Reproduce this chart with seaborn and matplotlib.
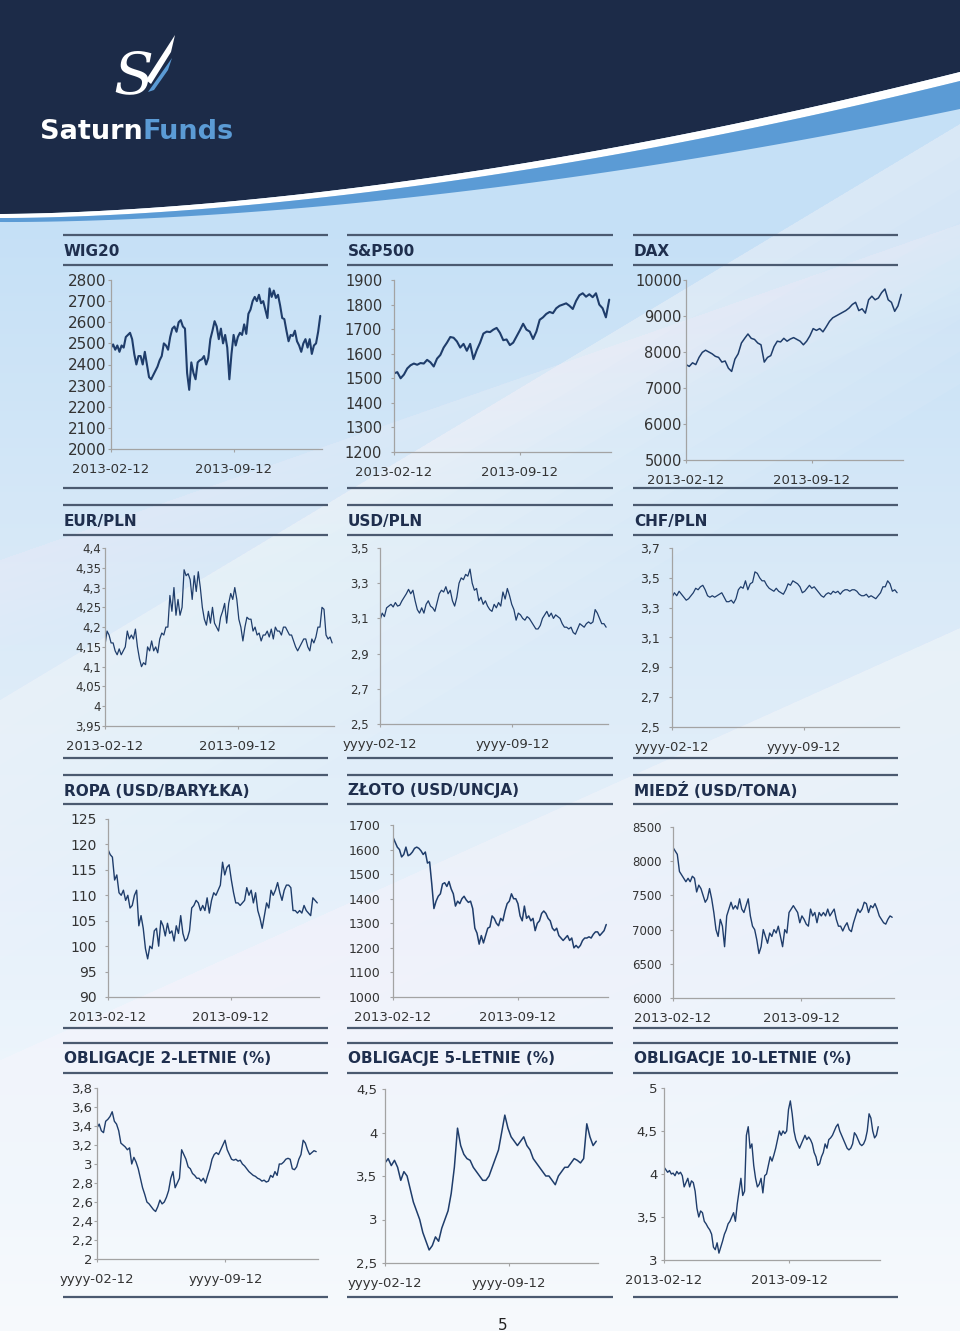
import numpy as np
import pandas as pd
import matplotlib
matplotlib.use("Agg")
import matplotlib.pyplot as plt
import matplotlib.dates as mdates
from matplotlib.ticker import FixedLocator, FuncFormatter
import seaborn as sns

# ---------------- data ----------------
titles = ["WIG20", "S&P500", "DAX",
          "EUR/PLN", "USD/PLN", "CHF/PLN",
          "ROPA (USD/BARYŁKA)", "ZŁOTO (USD/UNCJA)", "MIEDŹ (USD/TONA)",
          "OBLIGACJE 2-LETNIE (%)", "OBLIGACJE 5-LETNIE (%)", "OBLIGACJE 10-LETNIE (%)"]

date_prefix = ["2013", "2013", "2013",
               "2013", "yyyy", "yyyy",
               "2013", "2013", "2013",
               "yyyy", "yyyy", "2013"]

y_ranges = [(2000, 2800, 100), (1200, 1900, 100), (5000, 10000, 1000),
            (3.95, 4.4, 0.05), (2.5, 3.5, 0.2), (2.5, 3.7, 0.2),
            (90, 125, 5), (1000, 1700, 100), (6000, 8500, 500),
            (2.0, 3.8, 0.2), (2.5, 4.5, 0.5), (3.0, 5.0, 0.5)]

wig20 = [2480, 2495, 2470, 2490, 2460, 2490, 2480, 2530, 2540, 2550,
         2520, 2450, 2400, 2440, 2440, 2400, 2460, 2400, 2340, 2330,
         2350, 2370, 2390, 2420, 2440, 2500, 2490, 2470, 2530, 2570,
         2580, 2555, 2600, 2610, 2580, 2570, 2360, 2280, 2410, 2360,
         2330, 2410, 2420, 2425, 2440, 2400, 2430, 2520, 2560, 2605,
         2580, 2520, 2570, 2500, 2540, 2480, 2330, 2450, 2540, 2490,
         2530, 2550, 2540, 2590, 2545, 2640, 2660, 2700, 2720, 2700,
         2730, 2690, 2700, 2660, 2620, 2760, 2720, 2750, 2715, 2730,
         2680, 2620, 2615, 2560, 2510, 2540, 2535, 2560, 2510, 2490,
         2460, 2500, 2520, 2480, 2520, 2450, 2490, 2500, 2555, 2630]

sp500 = [1520, 1525, 1500, 1515, 1540, 1553, 1560, 1555, 1562, 1560,
         1575, 1565, 1548, 1580, 1595, 1625, 1645, 1668, 1665, 1650,
         1625, 1640, 1612, 1640, 1578, 1615, 1645, 1682, 1690, 1688,
         1698, 1705, 1685, 1655, 1658, 1635, 1645, 1670, 1695, 1722,
         1698, 1690, 1660, 1690, 1738, 1748, 1762, 1770, 1765, 1785,
         1795, 1800, 1805, 1795, 1782, 1815, 1838, 1846, 1832, 1842,
         1830, 1846, 1800, 1785, 1748, 1820]

dax = [7650, 7600, 7700, 7650, 7850, 7990, 8050, 8000, 7950, 7880,
       7850, 7720, 7750, 7550, 7460, 7800, 7950, 8250, 8380, 8500,
       8380, 8350, 8250, 8200, 7720, 7850, 7900, 8150, 8300, 8280,
       8380, 8300, 8360, 8400, 8350, 8300, 8200, 8300, 8450, 8650,
       8600, 8650, 8560, 8700, 8850, 8950, 9000, 9050, 9100, 9150,
       9220, 9320, 9380, 9150, 9200, 9080, 9450, 9550, 9450, 9500,
       9650, 9750, 9450, 9380, 9130, 9280, 9600]

eurpln = [4.155, 4.19, 4.18, 4.16, 4.16, 4.14, 4.13, 4.145, 4.13, 4.14,
          4.15, 4.19, 4.17, 4.18, 4.17, 4.195, 4.15, 4.12, 4.10, 4.11,
          4.105, 4.15, 4.14, 4.165, 4.14, 4.15, 4.135, 4.17, 4.185, 4.18,
          4.2, 4.2, 4.28, 4.24, 4.3, 4.23, 4.27, 4.23, 4.25, 4.345,
          4.33, 4.335, 4.32, 4.27, 4.33, 4.29, 4.34, 4.3, 4.25, 4.22,
          4.205, 4.24, 4.21, 4.25, 4.21, 4.2, 4.19, 4.225, 4.24, 4.26,
          4.21, 4.26, 4.285, 4.27, 4.3, 4.27, 4.22, 4.2, 4.165, 4.2,
          4.225, 4.22, 4.22, 4.19, 4.2, 4.18, 4.185, 4.165, 4.18, 4.18,
          4.19, 4.175, 4.195, 4.17, 4.2, 4.19, 4.19, 4.18, 4.2, 4.2,
          4.19, 4.18, 4.18, 4.165, 4.15, 4.14, 4.15, 4.16, 4.17, 4.17,
          4.15, 4.14, 4.17, 4.16, 4.175, 4.2, 4.2, 4.25, 4.245, 4.18,
          4.17, 4.175, 4.16]

usdpln = [3.09, 3.13, 3.11, 3.16, 3.17, 3.18, 3.165, 3.19, 3.17, 3.175,
          3.2, 3.22, 3.24, 3.265, 3.24, 3.26, 3.2, 3.15, 3.13, 3.16,
          3.13, 3.18, 3.2, 3.17, 3.16, 3.14, 3.19, 3.24, 3.26, 3.25,
          3.28, 3.24, 3.26, 3.2, 3.17, 3.22, 3.3, 3.33, 3.32, 3.35,
          3.34, 3.38, 3.3, 3.26, 3.27, 3.2, 3.22, 3.18, 3.2, 3.17,
          3.15, 3.14, 3.18, 3.16, 3.19, 3.17, 3.25, 3.21, 3.27, 3.23,
          3.18, 3.15, 3.09, 3.13, 3.12, 3.1, 3.09, 3.11, 3.1, 3.08,
          3.06, 3.04, 3.04, 3.06, 3.1, 3.12, 3.14, 3.11, 3.13, 3.1,
          3.12, 3.11, 3.1, 3.07, 3.05, 3.05, 3.04, 3.05, 3.02, 3.01,
          3.04, 3.07, 3.06, 3.05, 3.07, 3.08, 3.07, 3.08, 3.15, 3.13,
          3.1, 3.07, 3.07, 3.05]

chfpln = [3.37, 3.4, 3.38, 3.41, 3.39, 3.37, 3.35, 3.36, 3.38, 3.4,
          3.43, 3.42, 3.44, 3.45, 3.42, 3.38, 3.37, 3.38, 3.37, 3.38,
          3.39, 3.4, 3.37, 3.34, 3.34, 3.35, 3.33, 3.36, 3.42, 3.44,
          3.43, 3.48, 3.42, 3.46, 3.47, 3.54, 3.53, 3.5, 3.48, 3.48,
          3.45, 3.43, 3.42, 3.41, 3.43, 3.41, 3.4, 3.39, 3.42, 3.46,
          3.45, 3.48, 3.47, 3.46, 3.44, 3.4, 3.41, 3.43, 3.45, 3.43,
          3.44, 3.42, 3.4, 3.38, 3.37, 3.39, 3.4, 3.39, 3.41, 3.4,
          3.41, 3.39, 3.41, 3.42, 3.42, 3.41, 3.42, 3.42, 3.41, 3.39,
          3.38, 3.38, 3.39, 3.37, 3.38, 3.37, 3.36, 3.38, 3.4, 3.44,
          3.44, 3.48, 3.46, 3.41, 3.42, 3.4]

ropa = [119, 118, 117.5, 113, 114, 110.5, 110, 111, 109, 110,
        107.5, 108, 110, 111, 104, 106, 103.5, 99.5, 97.5, 100,
        99.5, 103, 103.5, 100, 105, 104, 102, 104.5, 102.5, 103,
        101, 104, 102.5, 106, 102.5, 101, 101.5, 103, 107.5, 108,
        109, 108.5, 107, 108, 107, 109.5, 106.5, 109, 110.5, 110,
        111, 112, 116.5, 114, 115.5, 116, 113, 110.5, 108.5, 108.5,
        108, 108.5, 109, 111.5, 110, 111, 108.5, 110.5, 107, 105.5,
        103.5, 106, 108.5, 107.5, 111, 110, 111, 112.5, 110.5, 109,
        111, 112, 112, 111.5, 107, 107, 106.5, 107, 106.5, 108,
        107, 106.5, 106, 109.5, 109, 108.5]

zloto = [1650, 1630, 1610, 1600, 1570, 1580, 1610, 1575, 1580, 1590,
         1605, 1610, 1605, 1595, 1580, 1590, 1545, 1550, 1460, 1360,
         1390, 1410, 1420, 1460, 1465, 1450, 1470, 1440, 1420, 1370,
         1390, 1380, 1400, 1410, 1395, 1385, 1390, 1360, 1280, 1260,
         1215, 1250, 1220, 1250, 1280, 1285, 1330, 1320, 1300, 1290,
         1320, 1310, 1350, 1380, 1390, 1420, 1400, 1400, 1380, 1330,
         1310, 1370, 1320, 1330, 1310, 1320, 1270, 1300, 1310, 1340,
         1350, 1340, 1320, 1310, 1280, 1270, 1280, 1250, 1240, 1230,
         1240, 1250, 1230, 1240, 1200, 1210, 1200, 1210, 1230, 1240,
         1240, 1245, 1240, 1255, 1265, 1265, 1250, 1260, 1270, 1295]

miedz = [8200, 8150, 8100, 7850, 7800, 7750, 7700, 7750, 7700, 7780,
         7750, 7550, 7650, 7600, 7500, 7400, 7450, 7600, 7450, 7250,
         7000, 6900, 7150, 7050, 6750, 7200, 7300, 7400, 7300, 7350,
         7300, 7450, 7300, 7250, 7350, 7450, 7200, 7050, 7000, 6850,
         6650, 6750, 7000, 6900, 6800, 6950, 6900, 7000, 6950, 7050,
         6900, 6750, 7000, 6950, 7250, 7300, 7350, 7300, 7250, 7100,
         7200, 7150, 7080, 7050, 7300, 7200, 7250, 7100, 7250, 7200,
         7250, 7200, 7300, 7200, 7250, 7300, 7150, 7050, 7050, 6980,
         7050, 7100, 7000, 6970, 7100, 7200, 7300, 7250, 7300, 7400,
         7380, 7250, 7350, 7320, 7380, 7300, 7200, 7150, 7100, 7080,
         7150, 7200, 7180]

obl2 = [3.38, 3.42, 3.35, 3.33, 3.45, 3.47, 3.5, 3.55, 3.45, 3.42,
        3.35, 3.22, 3.2, 3.18, 3.15, 3.17, 3.0, 3.07, 3.02, 2.95,
        2.85, 2.75, 2.68, 2.6, 2.58, 2.55, 2.52, 2.5, 2.55, 2.62,
        2.58, 2.6, 2.65, 2.72, 2.85, 2.92, 2.75, 2.8, 2.85, 3.15,
        3.1, 3.05, 2.97, 2.95, 2.9, 2.88, 2.85, 2.85, 2.82, 2.85,
        2.8, 2.88, 2.95, 3.05, 3.1, 3.12, 3.1, 3.15, 3.2, 3.25,
        3.15, 3.1, 3.05, 3.04, 3.05, 3.03, 3.04, 3.0, 2.98, 2.95,
        2.92, 2.9, 2.88, 2.87, 2.85, 2.84, 2.82, 2.83, 2.81, 2.82,
        2.88, 2.86, 2.92, 2.88, 3.0, 3.0, 3.02, 3.05, 3.06, 3.05,
        2.95, 2.94, 2.97, 3.05, 3.1, 3.25, 3.22, 3.15, 3.1, 3.12,
        3.14, 3.13]

obl5 = [3.65, 3.7, 3.62, 3.68, 3.6, 3.45, 3.55, 3.5, 3.35, 3.2,
        3.1, 3.0, 2.85, 2.75, 2.65, 2.7, 2.8, 2.75, 2.9, 3.0,
        3.1, 3.3, 3.6, 4.05, 3.85, 3.75, 3.7, 3.68, 3.6, 3.55,
        3.5, 3.45, 3.45, 3.5, 3.6, 3.7, 3.8, 4.0, 4.2, 4.05,
        3.95, 3.9, 3.85, 3.9, 3.95, 3.85, 3.8, 3.7, 3.65, 3.6,
        3.55, 3.5, 3.5, 3.45, 3.4, 3.5, 3.55, 3.6, 3.6, 3.65,
        3.7, 3.68, 3.65, 3.7, 4.1, 3.95, 3.85, 3.9]

obl10 = [4.08, 4.05, 4.02, 4.04, 4.0, 4.01, 3.98, 4.03, 4.0, 4.02,
         3.98, 3.85, 3.9, 3.95, 3.85, 3.92, 3.9, 3.8, 3.6, 3.5,
         3.57, 3.55, 3.45, 3.42, 3.38, 3.35, 3.3, 3.15, 3.12, 3.2,
         3.08, 3.15, 3.22, 3.3, 3.35, 3.42, 3.45, 3.5, 3.55, 3.45,
         3.65, 3.8, 3.95, 3.75, 3.8, 4.45, 4.55, 4.3, 4.35, 4.1,
         3.95, 3.85, 3.88, 3.95, 3.78, 3.98, 4.0, 4.1, 4.2, 4.15,
         4.22, 4.3, 4.4, 4.5, 4.45, 4.5, 4.47, 4.5, 4.75, 4.85,
         4.7, 4.5, 4.4, 4.35, 4.3, 4.35, 4.4, 4.45, 4.4, 4.43,
         4.4, 4.35, 4.25, 4.2, 4.1, 4.12, 4.2, 4.25, 4.35, 4.3,
         4.4, 4.42, 4.45, 4.5, 4.55, 4.58, 4.5, 4.45, 4.4, 4.35,
         4.3, 4.28, 4.3, 4.35, 4.48, 4.45, 4.4, 4.35, 4.33, 4.35,
         4.4, 4.5, 4.7, 4.65, 4.5, 4.42, 4.45, 4.55]

series = [wig20, sp500, dax, eurpln, usdpln, chfpln,
          ropa, zloto, miedz, obl2, obl5, obl10]

START = pd.Timestamp("2013-02-12")
SEPT = pd.Timestamp("2013-09-12")
DATA_END = pd.Timestamp("2014-02-09")
AXIS_END = pd.Timestamp("2014-02-12")

# ---------------- layout / style ----------------
W, H = 960, 1331
boxes = [(111, 322, 280, 449), (394, 611, 280, 452), (686, 903, 280, 460),
         (105, 334, 548, 726), (380, 608, 548, 724), (672, 899, 548, 727),
         (108, 319, 819, 997), (393, 608, 825, 997), (673, 894, 827, 998),
         (97, 318, 1088, 1259), (385, 598, 1089, 1263), (664, 880, 1088, 1260)]
ysize = [11, 10.5, 10.5, 8.5, 8.5, 9, 10, 9, 8.5, 9.5, 9.5, 9.5]
ypad = [0.5, 6, 0.5, 0.3, 5.4, 6, 5.4, 6.8, 5.4, 0.5, 3, 2]
lws = [1.5, 1.5, 1.1, 0.9, 0.9, 0.9, 1.0, 1.1, 1.0, 1.0, 1.1, 1.0]
col_x = [(63, 328), (347, 613), (633, 898)]
rows = [(235, 265, 488, 251), (505, 535, 758, 522), (775, 804, 1028, 791), (1043, 1073, 1297, 1059)]

LINE = "#1f3d6b"
NAVY = "#1c2b48"
TITLE_C = "#1f2f4e"
RULE_C = "#4b5a70"
AX_C = "#a3a3a3"
TXT_C = "#333333"

sns.set_theme(style="white")
plt.rcParams["font.family"] = ["DejaVu Sans"]

fig = plt.figure(figsize=(W / 100, H / 100), dpi=100)

# ---------------- background ----------------
bg = fig.add_axes([0, 0, 1, 1], zorder=-10)
bg.set_xlim(0, W)
bg.set_ylim(H, 0)
bg.axis("off")
ys = np.arange(H)
stops_y = [0, 220, 600, 1000, H]
stops_c = np.array([(197, 224, 246), (197, 224, 246), (218, 234, 248), (234, 243, 251), (247, 250, 253)]) / 255
grad = np.stack([np.interp(ys, stops_y, stops_c[:, k]) for k in range(3)], axis=1)[:, None, :]
bg.imshow(grad, extent=[0, W, H, 0], aspect="auto", zorder=0)


def soft_band(y_left, slope, width, alpha, steps=8):
    xx = np.array([0, W])
    top = y_left + slope * xx
    for k in range(steps):
        off = width * (k + 1) / steps
        poly = [(0, top[0]), (W, top[1]), (W, top[1] + off), (0, top[0] + off)]
        bg.add_patch(plt.Polygon(poly, closed=True, color="white", alpha=alpha / steps,
                                 lw=0, zorder=1))


soft_band(700, -0.6, 260, 0.5)
soft_band(1060, -0.45, 420, 0.55)
soft_band(560, -0.35, 90, 0.35)

xs = np.linspace(0, W, 300)
t = xs / W
y0 = 214 - 142 * t ** 1.7
y1 = y0 + 4 + 5 * t
y2 = y1 + 4 + 24 * t ** 1.5
bg.fill_between(xs, -5, y0, color=NAVY, lw=0, zorder=2)
bg.fill_between(xs, y0, y1, color="white", lw=0, zorder=2)
bg.fill_between(xs, y1, y2, color="#5b9bd5", lw=0, zorder=2)

# logo
bg.add_patch(plt.Polygon([(148, 92), (172, 58), (168, 70), (154, 90)], color="#5b9bd5", lw=0, zorder=3))
bg.add_patch(plt.Polygon([(146, 80), (175, 35), (171, 52), (151, 84)], color="white", lw=0, zorder=3))
fig.text(133 / W, 1 - 93 / H, "S", fontsize=42, color="white", family="DejaVu Serif",
         style="italic", ha="center", va="baseline")
t1 = fig.text(40 / W, 1 - 139 / H, "Saturn", fontsize=19.5, fontweight="bold", color="white",
              ha="left", va="baseline")
bb = t1.get_window_extent(renderer=fig.canvas.get_renderer())
fig.text(bb.x1 / W, 1 - 139 / H, "Funds", fontsize=19.5, fontweight="bold", color="#5b9bd5",
         ha="left", va="baseline")

# rules & titles
for r, (top, under, bottom, ty) in enumerate(rows):
    for c, (x0, x1) in enumerate(col_x):
        for yy in (top, under, bottom):
            bg.plot([x0, x1], [yy, yy], color=RULE_C, lw=1.6, solid_capstyle="butt", zorder=3)
        fig.text(x0 / W + 1 / W, 1 - ty / H, titles[r * 3 + c], fontsize=11, fontweight="bold",
                 color=TITLE_C, ha="left", va="center")

fig.text(503 / W, 1 - 1325 / H, "5", fontsize=11, color="#222222", ha="center", va="center")


def fmt(v, _):
    s = f"{v:.4f}".rstrip("0").rstrip(".")
    return s.replace(".", ",")


# ---------------- panels ----------------
for i, vals in enumerate(series):
    L, R, T, B = boxes[i]
    ax = fig.add_axes([L / W, 1 - B / H, (R - L) / W, (B - T) / H])
    ax.set_facecolor("none")
    df = pd.DataFrame({"date": pd.date_range(START, DATA_END, periods=len(vals)), "value": vals})
    sns.lineplot(data=df, x="date", y="value", ax=ax, color=LINE, linewidth=lws[i])
    ymin, ymax, step = y_ranges[i]
    ax.set_xlim(START, AXIS_END)
    ax.set_ylim(ymin, ymax)
    ticks = np.round(np.arange(ymin, ymax + step / 2, step), 4)
    ax.yaxis.set_major_locator(FixedLocator(ticks))
    ax.yaxis.set_major_formatter(FuncFormatter(fmt))
    ax.set_xticks([mdates.date2num(START), mdates.date2num(SEPT)])
    ax.set_xticklabels([f"{date_prefix[i]}-02-12", f"{date_prefix[i]}-09-12"])
    ax.set_xlabel("")
    ax.set_ylabel("")
    sns.despine(ax=ax)
    for s in ("left", "bottom"):
        ax.spines[s].set_color(AX_C)
        ax.spines[s].set_linewidth(0.9)
    ax.tick_params(axis="y", left=True, length=2.5, width=0.8, color=AX_C,
                   labelsize=ysize[i], pad=ypad[i], labelcolor=TXT_C)
    ax.tick_params(axis="x", bottom=True, length=2.5, width=0.8, color=AX_C,
                   labelsize=9.5, pad=7.5, labelcolor=TXT_C)
    ax.grid(False)

fig.savefig("out.png", dpi=100)
